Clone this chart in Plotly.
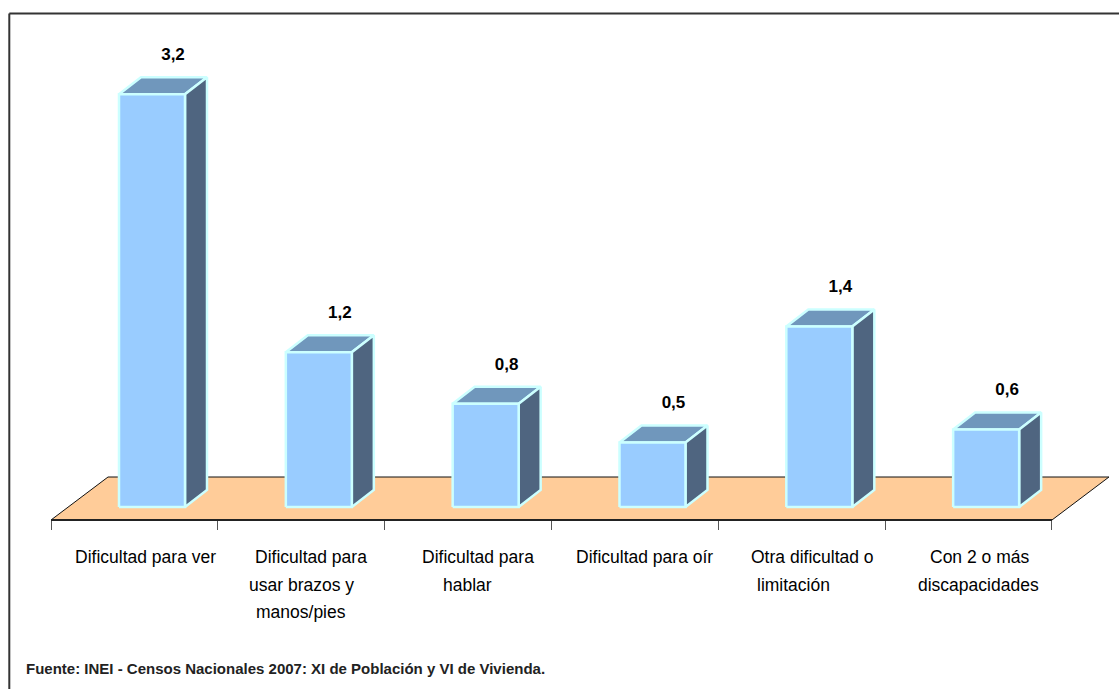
import plotly.graph_objects as go

categories = ["Dificultad para ver", "Dificultad para usar brazos y manos/pies", "Dificultad para hablar",
              "Dificultad para oír", "Otra dificultad o limitación", "Con 2 o más discapacidades"]
tick_lines = [["Dificultad para ver"],
              ["Dificultad para", "usar brazos y", "manos/pies"],
              ["Dificultad para", "hablar"],
              ["Dificultad para oír"],
              ["Otra dificultad o", "limitación"],
              ["Con 2 o más", "discapacidades"]]
values = [3.2, 1.2, 0.8, 0.5, 1.4, 0.6]
value_labels = ["3,2", "1,2", "0,8", "0,5", "1,4", "0,6"]

W, H = 1119, 689
X0, CAT_W = 51.0, 166.83      # pixel of category boundary 0, pixel width of a category
Y0, UNIT = 507.0, 129.0       # pixel of value 0, pixels per unit
xr = [(0 - X0) / CAT_W, (W - X0) / CAT_W]
yr = [(Y0 - H) / UNIT, Y0 / UNIT]

DX, DY = 22 / CAT_W, 17 / UNIT           # bar depth
BAR_L, BAR_W = 68 / CAT_W, 66 / CAT_W    # bar offset and width inside a category
FL_FRONT, FL_BACK = (Y0 - 520) / UNIT, (Y0 - 477) / UNIT
FL_DX = 57 / CAT_W
n = len(values)

FLOOR, FRONT, TOP, SIDE, EDGE = "#FFCC99", "#99CCFF", "#7097BC", "#4F6580", "#CCFFFF"
FONT = "Liberation Sans"

# horizontal offset (px) of each label line from the category centre
LINE_SHIFTS = [[11], [10, 0, 0], [10, -1], [10], [11, -8], [11, 10]]
LINE_FIRST_Y, LINE_STEP = 557, 27.5

fig = go.Figure()


def poly(xs, ys, fill, line, width):
    fig.add_trace(go.Scatter(x=xs + xs[:1], y=ys + ys[:1], mode="lines", fill="toself", fillcolor=fill,
                             line=dict(color=line, width=width), hoverinfo="skip", showlegend=False))


poly([0, n, n + FL_DX, FL_DX], [FL_FRONT, FL_FRONT, FL_BACK, FL_BACK], FLOOR, "#111111", 1)
fig.add_trace(go.Scatter(x=[0, n], y=[FL_FRONT, FL_FRONT], mode="lines",
                         line=dict(color="#222222", width=2), hoverinfo="skip", showlegend=False))

for i, v in enumerate(values):
    l = i + BAR_L
    r = l + BAR_W
    poly([l, r, r + DX, l + DX], [v, v, v + DY, v + DY], TOP, EDGE, 2.5)
    poly([r, r + DX, r + DX, r], [0, DY, v + DY, v], SIDE, EDGE, 2.5)
    poly([l, r, r, l], [0, 0, v, v], FRONT, EDGE, 2.5)

fig.add_trace(go.Scatter(x=[i + BAR_L + BAR_W / 2 + DX - 1 / CAT_W for i in range(n)],
                         y=[v + DY + 13 / UNIT for v in values],
                         mode="text", text=[f"<b>{t}</b>" for t in value_labels], textposition="top center",
                         textfont=dict(family=FONT, size=17, color="#000000"),
                         hoverinfo="skip", showlegend=False))

annotations = [dict(text="<b>Fuente: INEI - Censos Nacionales 2007: XI de Población y VI de Vivienda.</b>",
                    xref="paper", yref="paper", x=24 / W, y=1 - 668 / H, xanchor="left", yanchor="middle",
                    showarrow=False, font=dict(family=FONT, size=15, color="#222222"))]
for i, lines in enumerate(tick_lines):
    for j, line in enumerate(lines):
        annotations.append(dict(text=line, xref="x", yref="paper",
                                x=i + 0.5 + LINE_SHIFTS[i][j] / CAT_W,
                                y=1 - (LINE_FIRST_Y + j * LINE_STEP) / H,
                                xanchor="center", yanchor="middle", showarrow=False,
                                font=dict(family=FONT, size=17.5, color="#000000")))

fig.update_layout(
    width=W, height=H, margin=dict(l=0, r=0, t=0, b=0),
    paper_bgcolor="white", plot_bgcolor="white", showlegend=False,
    xaxis=dict(range=xr, showgrid=False, zeroline=False, showline=False,
               anchor="free", position=(H - 520) / H,
               tickmode="array", tickvals=list(range(n + 1)), showticklabels=False,
               ticks="outside", ticklen=9, tickcolor="#555555", tickwidth=1,
               fixedrange=True),
    yaxis=dict(range=yr, visible=False, fixedrange=True),
    shapes=[dict(type="line", xref="paper", yref="paper", x0=9.3 / W, x1=1, y0=1 - 13.5 / H, y1=1 - 13.5 / H,
                 line=dict(color="#333333", width=2), layer="below"),
            dict(type="line", xref="paper", yref="paper", x0=9.3 / W, x1=9.3 / W, y0=0, y1=1 - 13.5 / H,
                 line=dict(color="#333333", width=2), layer="below")],
    annotations=annotations,
)

fig.write_html("out.html", config=dict(displayModeBar=False),
               post_script="document.body.style.margin='0';document.body.style.overflow='hidden';")
